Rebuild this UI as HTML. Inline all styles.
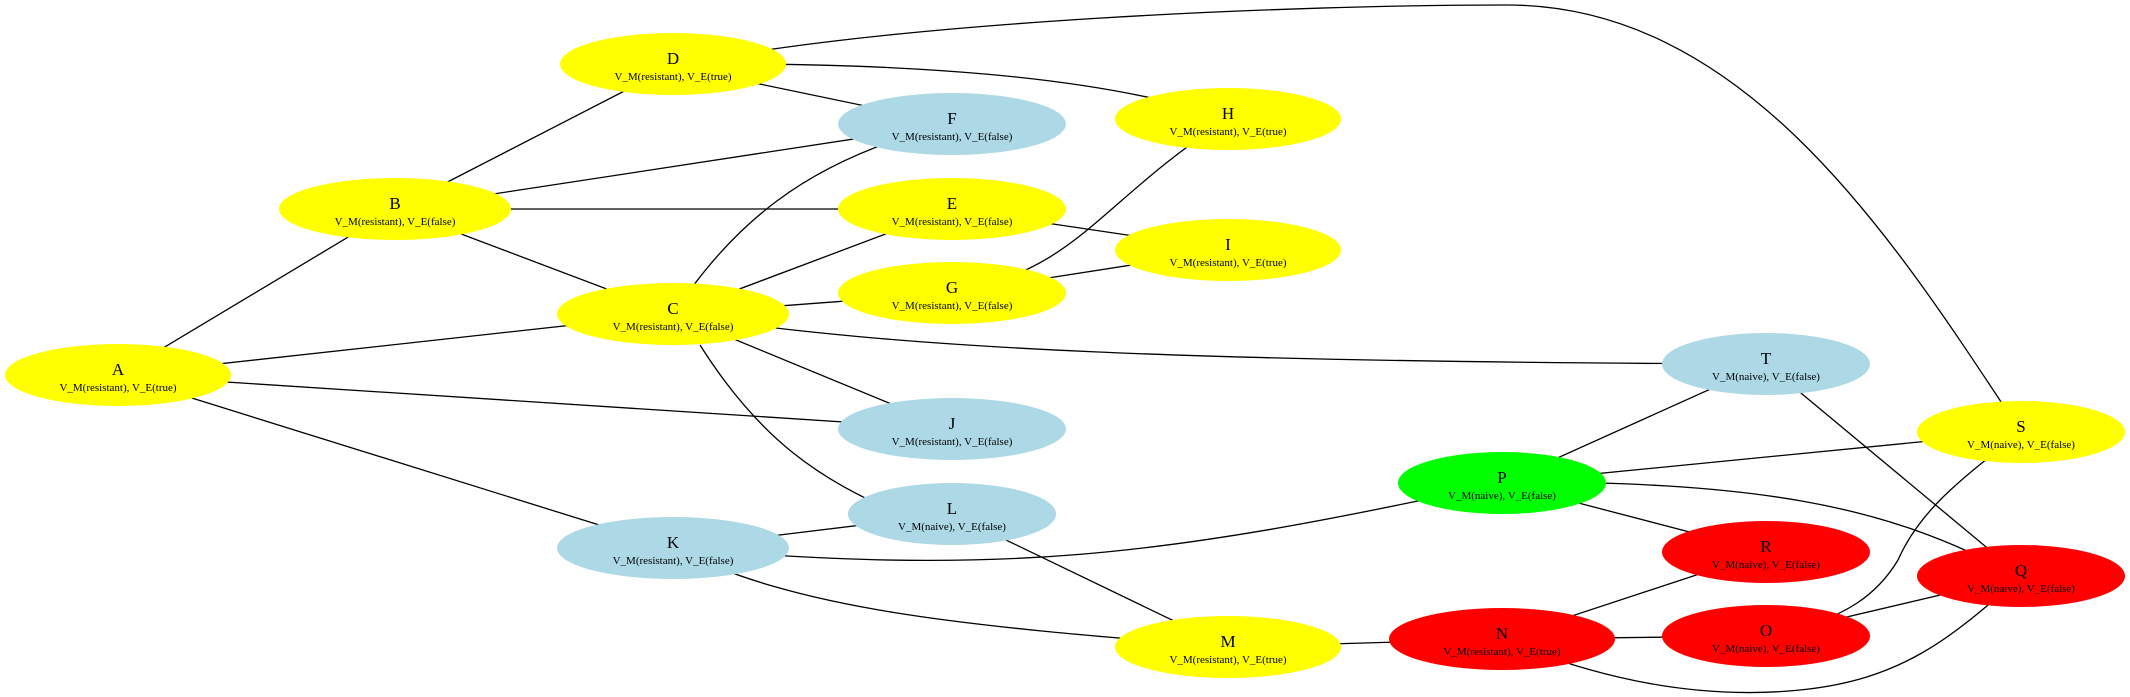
<!DOCTYPE html>
<html><head><meta charset="utf-8"><style>
html,body{margin:0;padding:0;background:#fff;}
svg{display:block;}
text{font-family:"Liberation Serif",serif;text-anchor:middle;fill:#000;}
.t{font-size:17px;}
.s{font-size:11px;}
</style></head><body>
<svg width="2130" height="697" viewBox="0 0 2130 697" xmlns="http://www.w3.org/2000/svg">
<g stroke="#000" stroke-width="1.3" fill="none">
<line x1="118" y1="375" x2="395" y2="209"/>
<line x1="118" y1="375" x2="673" y2="314"/>
<line x1="118" y1="375" x2="952" y2="429"/>
<line x1="118" y1="375" x2="673" y2="548"/>
<line x1="395" y1="209" x2="673" y2="66"/>
<line x1="395" y1="209" x2="952" y2="124"/>
<line x1="395" y1="209" x2="952" y2="209"/>
<line x1="395" y1="209" x2="673" y2="314"/>
<line x1="673" y1="66" x2="952" y2="124"/>
<path d="M673,64 C900,62 1100,75 1228,119"/>
<path d="M673,66 C900,20 1300,5 1507,5 C1750,5 1900,250 2021,432"/>
<path d="M673,314 C730,230 800,160 952,124"/>
<line x1="673" y1="314" x2="952" y2="209"/>
<line x1="673" y1="314" x2="952" y2="293"/>
<path d="M673,314 C900,350 1200,362 1766,364"/>
<line x1="673" y1="314" x2="952" y2="429"/>
<path d="M700,345 C760,440 820,480 900,514"/>
<line x1="952" y1="209" x2="1228" y2="250"/>
<path d="M952,293 C1080,270 1100,200 1228,119"/>
<line x1="952" y1="293" x2="1228" y2="250"/>
<line x1="673" y1="548" x2="952" y2="514"/>
<path d="M673,548 C1000,575 1150,560 1502,483"/>
<path d="M673,548 C800,610 950,625 1228,647"/>
<line x1="952" y1="514" x2="1228" y2="647"/>
<line x1="1228" y1="647" x2="1502" y2="639"/>
<line x1="1502" y1="639" x2="1766" y2="552"/>
<line x1="1502" y1="639" x2="1766" y2="636"/>
<path d="M1502,639 C1600,680 1700,700 1800,690 C1900,680 1950,640 2021,576"/>
<line x1="1766" y1="636" x2="2021" y2="576"/>
<path d="M1766,636 C1850,620 1880,590 1898,560 C1920,510 1960,480 2021,432"/>
<line x1="1502" y1="483" x2="1766" y2="364"/>
<line x1="1502" y1="483" x2="2021" y2="432"/>
<path d="M1502,481 C1750,483 1880,500 2021,578"/>
<line x1="1502" y1="483" x2="1766" y2="552"/>
<line x1="1766" y1="364" x2="2021" y2="576"/>
</g>
<g>
<ellipse cx="118" cy="375" rx="113" ry="31" fill="#ffff00"/>
<ellipse cx="395" cy="209" rx="116" ry="31" fill="#ffff00"/>
<ellipse cx="673" cy="64" rx="113" ry="31" fill="#ffff00"/>
<ellipse cx="952" cy="124" rx="114" ry="31" fill="#add8e6"/>
<ellipse cx="952" cy="209" rx="114" ry="31" fill="#ffff00"/>
<ellipse cx="952" cy="293" rx="114" ry="31" fill="#ffff00"/>
<ellipse cx="673" cy="314" rx="116" ry="31" fill="#ffff00"/>
<ellipse cx="952" cy="429" rx="114" ry="31" fill="#add8e6"/>
<ellipse cx="952" cy="514" rx="104" ry="31" fill="#add8e6"/>
<ellipse cx="673" cy="548" rx="116" ry="31" fill="#add8e6"/>
<ellipse cx="1228" cy="119" rx="113" ry="31" fill="#ffff00"/>
<ellipse cx="1228" cy="250" rx="113" ry="31" fill="#ffff00"/>
<ellipse cx="1766" cy="364" rx="104" ry="31" fill="#add8e6"/>
<ellipse cx="2021" cy="432" rx="104" ry="31" fill="#ffff00"/>
<ellipse cx="1502" cy="483" rx="104" ry="31" fill="#00ff00"/>
<ellipse cx="1766" cy="552" rx="104" ry="31" fill="#ff0000"/>
<ellipse cx="2021" cy="576" rx="104" ry="31" fill="#ff0000"/>
<ellipse cx="1766" cy="636" rx="104" ry="31" fill="#ff0000"/>
<ellipse cx="1502" cy="639" rx="113" ry="31" fill="#ff0000"/>
<ellipse cx="1228" cy="647" rx="113" ry="31" fill="#ffff00"/>
</g>
<g>
<text class="t" x="118" y="375">A</text><text class="s" x="118" y="391">V_M(resistant), V_E(true)</text>
<text class="t" x="395" y="209">B</text><text class="s" x="395" y="225">V_M(resistant), V_E(false)</text>
<text class="t" x="673" y="64">D</text><text class="s" x="673" y="80">V_M(resistant), V_E(true)</text>
<text class="t" x="952" y="124">F</text><text class="s" x="952" y="140">V_M(resistant), V_E(false)</text>
<text class="t" x="952" y="209">E</text><text class="s" x="952" y="225">V_M(resistant), V_E(false)</text>
<text class="t" x="952" y="293">G</text><text class="s" x="952" y="309">V_M(resistant), V_E(false)</text>
<text class="t" x="673" y="314">C</text><text class="s" x="673" y="330">V_M(resistant), V_E(false)</text>
<text class="t" x="952" y="429">J</text><text class="s" x="952" y="445">V_M(resistant), V_E(false)</text>
<text class="t" x="952" y="514">L</text><text class="s" x="952" y="530">V_M(naive), V_E(false)</text>
<text class="t" x="673" y="548">K</text><text class="s" x="673" y="564">V_M(resistant), V_E(false)</text>
<text class="t" x="1228" y="119">H</text><text class="s" x="1228" y="135">V_M(resistant), V_E(true)</text>
<text class="t" x="1228" y="250">I</text><text class="s" x="1228" y="266">V_M(resistant), V_E(true)</text>
<text class="t" x="1766" y="364">T</text><text class="s" x="1766" y="380">V_M(naive), V_E(false)</text>
<text class="t" x="2021" y="432">S</text><text class="s" x="2021" y="448">V_M(naive), V_E(false)</text>
<text class="t" x="1502" y="483">P</text><text class="s" x="1502" y="499">V_M(naive), V_E(false)</text>
<text class="t" x="1766" y="552">R</text><text class="s" x="1766" y="568">V_M(naive), V_E(false)</text>
<text class="t" x="2021" y="576">Q</text><text class="s" x="2021" y="592">V_M(naive), V_E(false)</text>
<text class="t" x="1766" y="636">O</text><text class="s" x="1766" y="652">V_M(naive), V_E(false)</text>
<text class="t" x="1502" y="639">N</text><text class="s" x="1502" y="655">V_M(resistant), V_E(true)</text>
<text class="t" x="1228" y="647">M</text><text class="s" x="1228" y="663">V_M(resistant), V_E(true)</text>
</g>
</svg>
</body></html>
